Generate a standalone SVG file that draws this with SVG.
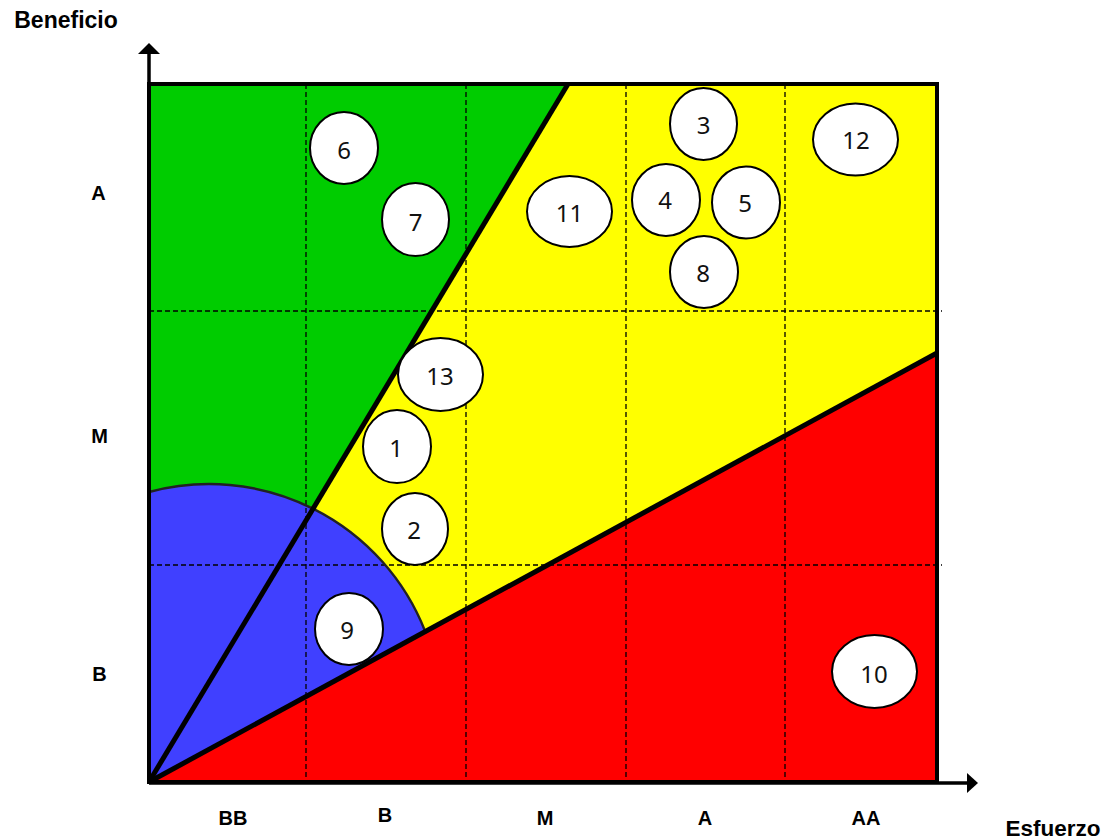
<svg xmlns="http://www.w3.org/2000/svg" width="1116" height="840" viewBox="0 0 1116 840">
<style>
.lbl{font-family:"Liberation Sans",Arial,sans-serif;font-weight:bold;fill:#000;text-anchor:middle}
.num{font-family:"Noto Sans","Open Sans",sans-serif;font-size:24px;fill:#111;text-anchor:middle}
.node ellipse{fill:#fff;stroke:#000;stroke-width:2}
.dash{stroke:#000;stroke-width:1.3;stroke-dasharray:5 3;fill:none}
.thick{stroke:#000;stroke-width:5;fill:none}
</style>
<rect width="1116" height="840" fill="#fff"/>
<g id="regions">
<polygon points="149,84 568,84 149,782" fill="#00CC00"/>
<polygon points="568,84 937,84 937,353 149,782" fill="#FFFF00"/>
<polygon points="149,782 937,353 937,782" fill="#FF0000"/>
<path d="M149,782 L149,492 A232,232 0 0 1 425,631 Z" fill="#4040FF"/>
</g>
<g id="grid">
<line class="dash" x1="306" y1="84" x2="306" y2="782"/>
<line class="dash" x1="466" y1="84" x2="466" y2="782"/>
<line class="dash" x1="626" y1="84" x2="626" y2="782"/>
<line class="dash" x1="785" y1="84" x2="785" y2="782"/>
<line class="dash" x1="149" y1="311" x2="942" y2="311"/>
<line class="dash" x1="149" y1="565" x2="942" y2="565"/>
</g>
<g id="connectors">
<path d="M149,492 A232,232 0 0 1 425,631" fill="none" stroke="#222" stroke-width="2.4"/>
<line class="thick" x1="149" y1="782" x2="568" y2="84"/>
<line class="thick" x1="149" y1="782" x2="937" y2="353"/>
<rect x="149" y="84" width="788" height="698" fill="none" stroke="#000" stroke-width="4"/>
<line x1="149" y1="782" x2="149" y2="53" stroke="#000" stroke-width="3.5"/>
<path d="M138,54 L149,43 L160,54 Z" fill="#000"/>
<line x1="149" y1="783" x2="968" y2="783" stroke="#000" stroke-width="3.5"/>
<path d="M967,773 L978,783 L967,793 Z" fill="#000"/>
</g>
<g id="n6" class="node"><ellipse cx="344" cy="148" rx="34" ry="36"/><text class="num" x="344" y="159">6</text></g>
<g id="n7" class="node"><ellipse cx="415.5" cy="219.5" rx="33.5" ry="36.5"/><text class="num" x="415.5" y="231">7</text></g>
<g id="n11" class="node"><ellipse cx="569.5" cy="211.5" rx="42.5" ry="35.5"/><text class="num" x="569.5" y="222">11</text></g>
<g id="n3" class="node"><ellipse cx="703.5" cy="124" rx="33.5" ry="36"/><text class="num" x="703.5" y="134">3</text></g>
<g id="n4" class="node"><ellipse cx="666" cy="200" rx="34" ry="36"/><text class="num" x="665" y="209">4</text></g>
<g id="n5" class="node"><ellipse cx="746" cy="202.5" rx="34" ry="36"/><text class="num" x="745" y="212">5</text></g>
<g id="n8" class="node"><ellipse cx="704" cy="272" rx="34" ry="36"/><text class="num" x="703" y="282">8</text></g>
<g id="n12" class="node"><ellipse cx="855.5" cy="139.5" rx="42.5" ry="36"/><text class="num" x="856" y="149">12</text></g>
<g id="n13" class="node"><ellipse cx="440.5" cy="374.5" rx="42.5" ry="36.5"/><text class="num" x="440" y="385">13</text></g>
<g id="n1" class="node"><ellipse cx="397" cy="446.5" rx="34" ry="36.5"/><text class="num" x="396" y="457">1</text></g>
<g id="n2" class="node"><ellipse cx="415" cy="529" rx="33" ry="36"/><text class="num" x="414" y="539">2</text></g>
<g id="n9" class="node"><ellipse cx="349" cy="629" rx="34" ry="36"/><text class="num" x="347" y="639">9</text></g>
<g id="n10" class="node"><ellipse cx="874.5" cy="671.5" rx="42.5" ry="36.5"/><text class="num" x="874" y="683">10</text></g>
<g id="labels">
<text class="lbl" x="66" y="28" font-size="23">Beneficio</text>
<text class="lbl" x="1053" y="836" font-size="22.5">Esfuerzo</text>
<text class="lbl" x="98.5" y="200" font-size="20">A</text>
<text class="lbl" x="99.5" y="443" font-size="20">M</text>
<text class="lbl" x="99.5" y="681" font-size="20">B</text>
<text class="lbl" x="233" y="825" font-size="20">BB</text>
<text class="lbl" x="385" y="822" font-size="20">B</text>
<text class="lbl" x="545" y="825" font-size="20">M</text>
<text class="lbl" x="705" y="825" font-size="20">A</text>
<text class="lbl" x="866" y="825" font-size="20">AA</text>
</g>
</svg>
